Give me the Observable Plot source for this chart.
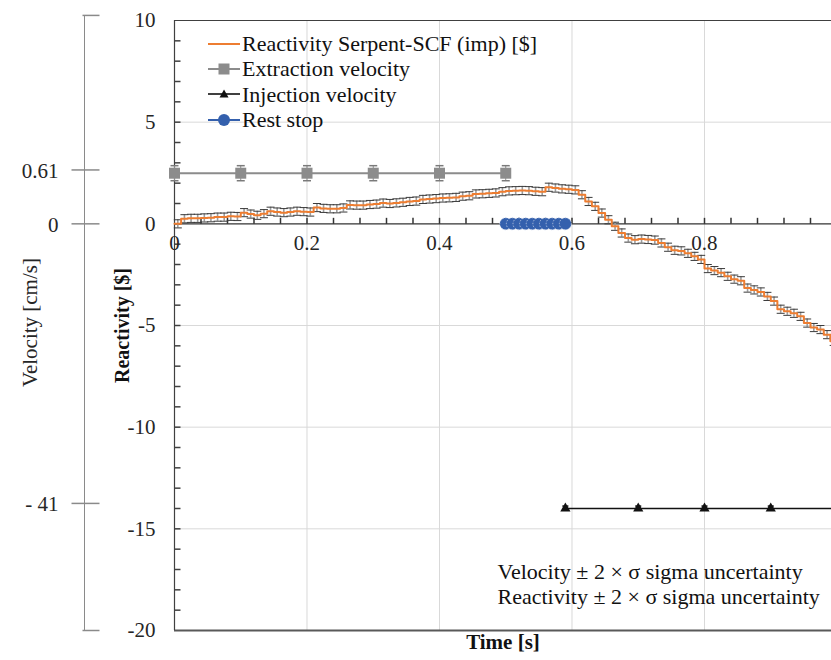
<!DOCTYPE html>
<html><head><meta charset="utf-8">
<script src="https://cdn.jsdelivr.net/npm/d3@7"></script>
<script src="https://cdn.jsdelivr.net/npm/@observablehq/plot@0.6"></script>
<style>
body{margin:0;background:#fff;}
#wrap{position:relative;width:831px;height:660px;font-family:"Liberation Serif","Times New Roman",serif;overflow:hidden;}
#legend{position:absolute;left:208px;top:31px;font-size:22px;line-height:25.4px;color:#111;}
.item{display:flex;align-items:center;white-space:nowrap;height:25.4px;}
.item svg{margin-right:2px;}
</style></head><body><div id="wrap"><div id="chart"></div><div id="legend"></div></div>
<script>
// ---- data ----
const time = [0.00,0.01,0.02,0.03,0.04,0.05,0.06,0.07,0.08,0.09,
  0.10,0.11,0.12,0.13,0.14,0.15,0.16,0.17,0.18,0.19,
  0.20,0.21,0.22,0.23,0.24,0.25,0.26,0.27,0.28,0.29,
  0.30,0.31,0.32,0.33,0.34,0.35,0.36,0.37,0.38,0.39,
  0.40,0.41,0.42,0.43,0.44,0.45,0.46,0.47,0.48,0.49,
  0.50,0.51,0.52,0.53,0.54,0.55,0.56,0.57,0.58,0.59,
  0.60,0.61,0.62,0.63,0.64,0.65,0.66,0.67,0.68,0.69,
  0.70,0.71,0.72,0.73,0.74,0.75,0.76,0.77,0.78,0.79,
  0.80,0.81,0.82,0.83,0.84,0.85,0.86,0.87,0.88,0.89,
  0.90,0.91,0.92,0.93,0.94,0.95,0.96,0.97,0.98,0.99];
const reactivity = [0.00,0.25,0.27,0.27,0.29,0.30,0.33,0.33,0.37,0.36,
  0.55,0.48,0.42,0.50,0.62,0.58,0.55,0.58,0.62,0.60,
  0.58,0.80,0.76,0.74,0.74,0.78,0.93,0.92,0.92,0.95,
  0.97,1.02,1.00,1.03,1.06,1.10,1.12,1.20,1.22,1.24,
  1.27,1.28,1.30,1.36,1.38,1.47,1.48,1.50,1.52,1.58,
  1.62,1.63,1.64,1.63,1.60,1.58,1.80,1.76,1.72,1.70,
  1.67,1.43,1.10,0.86,0.53,0.20,-0.12,-0.45,-0.70,-0.78,
  -0.75,-0.77,-0.80,-0.94,-1.15,-1.30,-1.33,-1.45,-1.60,-1.75,
  -2.20,-2.30,-2.40,-2.58,-2.72,-2.80,-3.16,-3.25,-3.35,-3.57,
  -3.80,-4.20,-4.30,-4.40,-4.55,-4.88,-5.10,-5.20,-5.45,-5.78];
const reactivityErr = 0.2;

const extractionTime = [0.0,0.1,0.2,0.3,0.4,0.5];
const extractionLevel = [2.49,2.49,2.49,2.49,2.49,2.49];
const extractionErr = 0.37;

const injectionTime = [0.59,0.70,0.80,0.90,1.00];
const injectionLevel = [-14,-14,-14,-14,-14];
const injectionErr = 0.12;

const restTime = [0.50,0.51,0.52,0.53,0.54,0.55,0.56,0.57,0.58,0.59];
const restLevel = [0,0,0,0,0,0,0,0,0,0];

const xTicks = [0,0.2,0.4,0.6,0.8];
const xTickLabels = ["0","0.2","0.4","0.6","0.8"];
const xMinor = d3.range(0.04, 0.99, 0.04);
const yTicks = [10,5,0,-5,-10,-15,-20];
const yTickLabels = ["10","5","0","-5","-10","-15","-20"];
const yMinor = d3.range(-19, 10, 1);
const yGrid = [5,-5,-10,-15];
const xGrid = [0.2,0.4,0.6,0.8];

const velTickLabels = ["0.61","0","- 41"];
const velTickPos = [2.65, 0, -13.75];
const velEnds = [10.25, -20];

const legendLabels = ["Reactivity Serpent-SCF (imp) [$]","Extraction velocity","Injection velocity","Rest stop"];
const annotLines = ["Velocity \u00b1 2 \u00d7 \u03c3 sigma uncertainty","Reactivity \u00b1 2 \u00d7 \u03c3 sigma uncertainty"];

// ---- tables ----
const rows = time.map((t,i)=>({t, r: reactivity[i]}));
const extRows = extractionTime.map((t,i)=>({t, v: extractionLevel[i]}));
const injRows = injectionTime.map((t,i)=>({t, v: injectionLevel[i]}));
const restRows = restTime.map((t,i)=>({t, v: restLevel[i]}));

// custom symbols
const cap = w => ({draw(ctx){ctx.moveTo(-w,0);ctx.lineTo(w,0);}});
const tickUp = {draw(ctx){ctx.moveTo(0,0);ctx.lineTo(0,-6);}};
const tickRight = {draw(ctx){ctx.moveTo(0,0);ctx.lineTo(6,0);}};
const velCross = {draw(ctx){ctx.moveTo(-13,0);ctx.lineTo(15,0);}};
const velEnd = {draw(ctx){ctx.moveTo(-2,0);ctx.lineTo(15,0);}};

const FONT = "Liberation Serif, Times New Roman, serif";
const INK = "#262626";

const chart = Plot.plot({
  width: 831, height: 660,
  marginLeft: 174, marginRight: 0, marginTop: 20, marginBottom: 30,
  style: {fontFamily: FONT, background: "white", overflow: "visible"},
  x: {domain: [0, 0.9917], axis: null, label: null},
  y: {domain: [-20, 10], label: null},
  marks: [
    Plot.gridY(yGrid, {stroke: "#d9d9d9", strokeOpacity: 1}),
    Plot.gridX(xGrid, {stroke: "#d9d9d9", strokeOpacity: 1}),
    // frame
    Plot.ruleY([10], {stroke: "#404040", strokeWidth: 1}),
    Plot.ruleY([-20], {stroke: "#595959", strokeWidth: 2}),
    Plot.ruleX([0], {stroke: "#404040", strokeWidth: 1.2}),
    // y axis
    Plot.dot(yMinor, {x: 0, y: d => d, symbol: tickRight, fill: "none", stroke: "#404040"}),
    Plot.axisY(yTicks, {anchor: "left", tickSize: 0, tickPadding: 19, fontSize: 21, fontFamily: FONT, color: INK, label: null,
      tickFormat: d => yTickLabels[yTicks.indexOf(d)]}),
    // x axis at y = 0
    Plot.ruleY([0], {stroke: "#333", strokeWidth: 1.3}),
    Plot.dot(xMinor, {x: d => d, y: 0, symbol: tickUp, fill: "none", stroke: "#333"}),
    Plot.text(xTicks, {x: d => d, y: 0, text: (d,i) => xTickLabels[i], dy: 19, fontSize: 21, fill: INK}),
    // velocity axis
    Plot.ruleX([0], {dx: -90, insetTop: -5, stroke: "#8a8a8a"}),
    Plot.dot(velTickPos, {x: 0, y: d => d, dx: -90, symbol: velCross, fill: "none", stroke: "#8a8a8a"}),
    Plot.dot(velEnds, {x: 0, y: d => d, dx: -90, symbol: velEnd, fill: "none", stroke: "#8a8a8a"}),
    Plot.text(velTickLabels, {x: 0, y: (d,i) => velTickPos[i], dx: -116, dy: 1, textAnchor: "end", fontSize: 21, fill: INK}),
    // axis titles
    Plot.text(["Reactivity [$]"], {frameAnchor: "left", dx: -52, rotate: -90, textAnchor: "middle", fontSize: 20, fontWeight: "bold", fill: "#111"}),
    Plot.text(["Velocity [cm/s]"], {frameAnchor: "left", dx: -144, dy: -3, rotate: -90, textAnchor: "middle", fontSize: 21, fill: INK}),
    Plot.text(["Time [s]"], {frameAnchor: "bottom", dy: 18, textAnchor: "middle", fontSize: 21, fontWeight: "bold", fill: "#111"}),
    // extraction velocity
    Plot.line(extRows, {x: "t", y: "v", stroke: "#8c8c8c", strokeWidth: 2}),
    Plot.ruleX(extRows, {x: "t", y1: d => d.v - extractionErr, y2: d => d.v + extractionErr, stroke: "#8c8c8c"}),
    Plot.dot(extRows, {x: "t", y: d => d.v + extractionErr, symbol: cap(4), fill: "none", stroke: "#7a7a7a"}),
    Plot.dot(extRows, {x: "t", y: d => d.v - extractionErr, symbol: cap(4), fill: "none", stroke: "#7a7a7a"}),
    Plot.dot(extRows, {x: "t", y: "v", symbol: "square", r: 6.2, fill: "#8c8c8c", stroke: "none"}),
    // injection velocity
    Plot.line(injRows, {x: "t", y: "v", stroke: "#111", strokeWidth: 1.6, clip: true}),
    Plot.ruleX(injRows, {x: "t", y1: d => d.v - injectionErr, y2: d => d.v + injectionErr, stroke: "#111", clip: true}),
    Plot.dot(injRows, {x: "t", y: d => d.v + injectionErr, symbol: cap(3), fill: "none", stroke: "#111", clip: true}),
    Plot.dot(injRows, {x: "t", y: "v", symbol: "triangle", r: 3.8, fill: "#111", stroke: "none", clip: true}),
    // rest stop
    Plot.line(restRows, {x: "t", y: "v", stroke: "#3460ad", strokeWidth: 2}),
    Plot.dot(restRows, {x: "t", y: "v", r: 6, fill: "#3460ad", stroke: "#c9d2e6", strokeWidth: 0.8, strokeDasharray: "1.5,1.5"}),
    // reactivity error bars
    Plot.ruleX(rows, {x: d => d.t + 0.005, y1: d => d.r - reactivityErr, y2: d => d.r + reactivityErr, stroke: "#9c9c9c", strokeWidth: 1.6}),
    Plot.dot(rows, {x: d => d.t + 0.005, y: d => d.r + reactivityErr, symbol: cap(4), fill: "none", stroke: "#3a3a3a", strokeWidth: 1}),
    Plot.dot(rows, {x: d => d.t + 0.005, y: d => d.r - reactivityErr, symbol: cap(4), fill: "none", stroke: "#3a3a3a", strokeWidth: 1}),
    // reactivity line
    Plot.line(rows, {x: "t", y: "r", curve: "step-after", stroke: "#ED7D31", strokeWidth: 2}),
    // annotation
    Plot.text([annotLines.join("\n")], {frameAnchor: "bottom-left", dx: 323, dy: -70, textAnchor: "start", lineAnchor: "top", lineHeight: 1.16, fontSize: 22, fill: "#111"})
  ]
});
document.getElementById("chart").appendChild(chart);

// ---- legend ----
const swatches = [
  `<svg width="32" height="14"><line x1="0" y1="7" x2="32" y2="7" stroke="#ED7D31" stroke-width="2"/></svg>`,
  `<svg width="32" height="14"><line x1="0" y1="7" x2="32" y2="7" stroke="#8c8c8c" stroke-width="2"/><rect x="10.5" y="1.5" width="11" height="11" fill="#8c8c8c"/></svg>`,
  `<svg width="32" height="14"><line x1="0" y1="7" x2="32" y2="7" stroke="#111" stroke-width="1.6"/><path d="M16,2.5 L20.5,10.5 L11.5,10.5 Z" fill="#111"/></svg>`,
  `<svg width="32" height="14"><line x1="0" y1="7" x2="32" y2="7" stroke="#3460ad" stroke-width="2"/><circle cx="16" cy="7" r="6" fill="#3460ad"/></svg>`
];
document.getElementById("legend").innerHTML = legendLabels.map((l,i)=>`<div class="item">${swatches[i]}<span>${l}</span></div>`).join("");
</script>
</body></html>
